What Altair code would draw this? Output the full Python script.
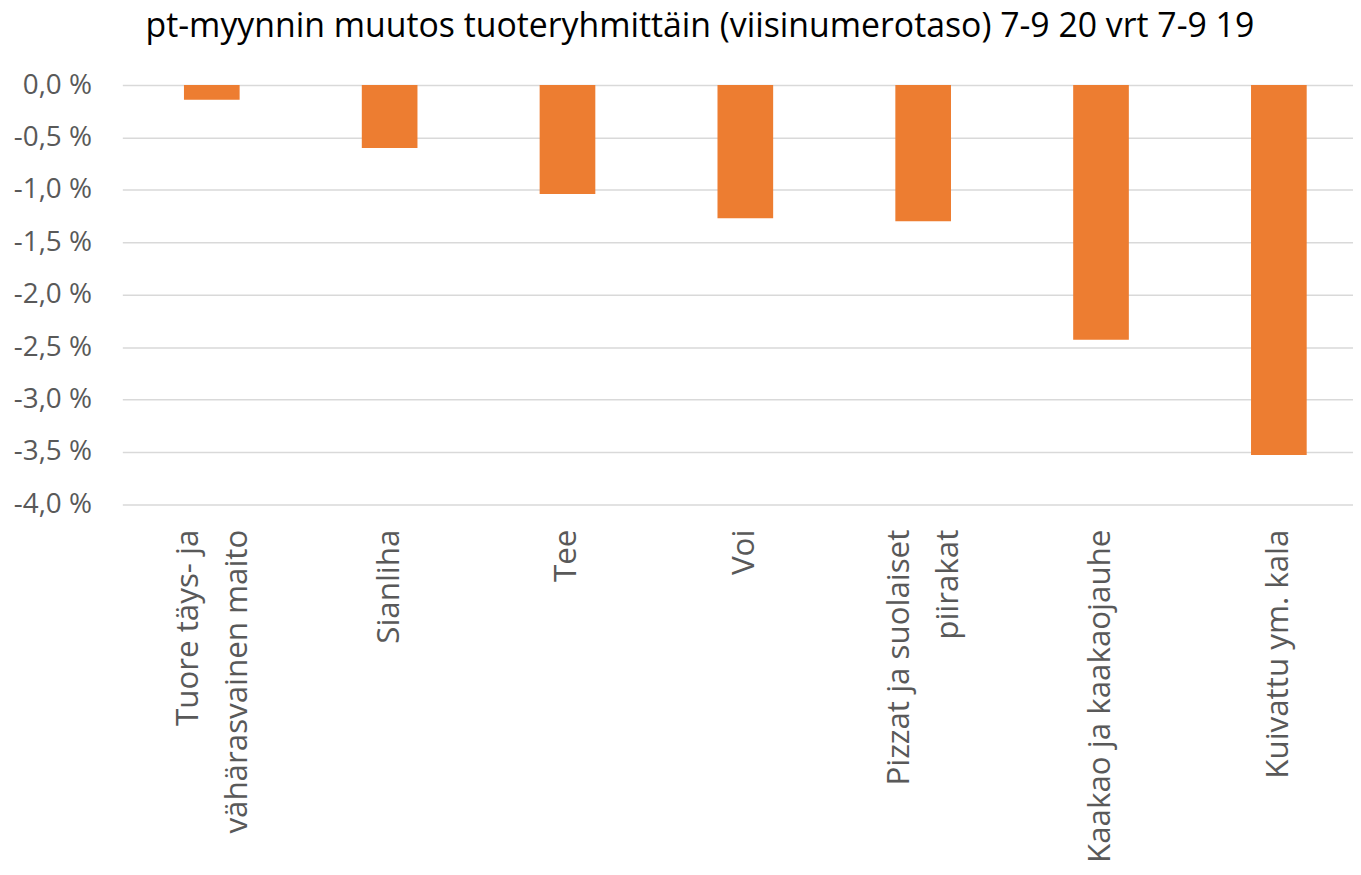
import altair as alt
import pandas as pd

categories = [
    "Tuore täys- ja\nvähärasvainen maito",
    "Sianliha",
    "Tee",
    "Voi",
    "Pizzat ja suolaiset\npiirakat",
    "Kaakao ja kaakaojauhe",
    "Kuivattu ym. kala",
]
values = [-0.14, -0.60, -1.04, -1.27, -1.30, -2.43, -3.53]
y_ticks = [0.0, -0.5, -1.0, -1.5, -2.0, -2.5, -3.0, -3.5, -4.0]
title_text = "pt-myynnin muutos tuoteryhmittäin (viisinumerotaso) 7-9 20 vrt 7-9 19"

df = pd.DataFrame({"cat": categories, "val": values})

FONT = "Open Sans"

chart = (
    alt.Chart(df)
    .mark_bar(color="#ED7D31")
    .encode(
        x=alt.X(
            "cat:N",
            sort=None,
            title=None,
            scale=alt.Scale(paddingInner=0.687, paddingOuter=0.3035, align=0.571),
            axis=alt.Axis(
                labelAngle=-90,
                labelAlign="right",
                labelBaseline="middle",
                labelExpr="split(datum.label, '\\n')",
                labelFont=FONT,
                labelFontSize=31.5,
                labelLineHeight=49,
                labelColor="#595959",
                labelPadding=25,
                labelOffset={
                    "condition": {"test": "indexof(datum.value, '\\n') >= 0", "value": -23},
                    "value": 0,
                },
                ticks=False,
                domain=False,
                grid=False,
                labelLimit=0,
            ),
        ),
        y=alt.Y(
            "val:Q",
            title=None,
            scale=alt.Scale(domain=[-4, 0], nice=False, zero=True),
            axis=alt.Axis(
                values=y_ticks,
                labelExpr="(datum.value < 0 ? '-' : '') + replace(format(abs(datum.value), '.1f'), '.', ',') + ' %'",
                labelFont=FONT,
                labelFontSize=28,
                labelColor="#595959",
                labelPadding=31,
                ticks=False,
                domain=False,
                grid=True,
                gridColor="#d9d9d9",
                gridWidth=1.5,
            ),
        ),
    )
    .properties(
        width=1238,
        height=421.7,
        autosize=alt.AutoSizeParams(type="none"),
        padding={"left": 115, "top": 75, "right": 0, "bottom": 362},
        title=alt.TitleParams(
            text=title_text,
            font=FONT,
            fontSize=34,
            fontWeight="normal",
            color="#000000",
            anchor="middle",
            dx=-38,
            offset=0,
            baseline="alphabetic",
        ),
    )
    .configure_view(stroke=None)
)

chart.save("out.html", embed_options={"renderer": "svg", "actions": False})
